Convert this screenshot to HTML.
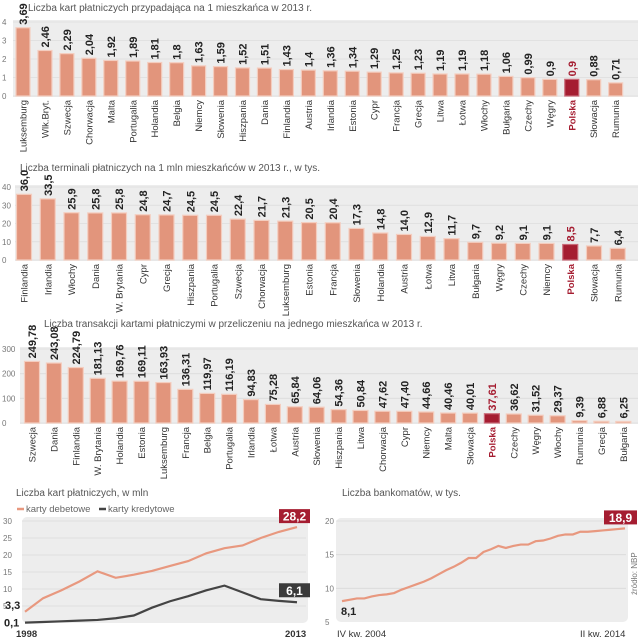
<!DOCTYPE html>
<html><head><meta charset="utf-8"><style>
html,body{margin:0;padding:0;background:#fff;width:640px;height:640px;overflow:hidden}
svg{display:block;font-family:"Liberation Sans",sans-serif}
</style></head><body>
<svg id="c" width="640" height="640" viewBox="0 0 640 640" xmlns="http://www.w3.org/2000/svg">
<text x="170" y="11" font-size="10" fill="#555" text-anchor="middle">Liczba kart płatniczych przypadająca na 1 mieszkańca w 2013 r.</text>
<text x="170" y="171" font-size="10" fill="#555" text-anchor="middle">Liczba terminali płatniczych na 1 mln mieszkańców w 2013 r., w tys.</text>
<text x="44" y="327" font-size="10" fill="#555">Liczba transakcji kartami płatniczymi w przeliczeniu na jednego mieszkańca w 2013 r.</text>
<text x="16" y="496" font-size="10" fill="#555">Liczba kart płatniczych, w mln</text>
<text x="342" y="496" font-size="10" fill="#555">Liczba bankomatów, w tys.</text>
<text transform="translate(637,595) rotate(-90)" font-size="8" fill="#777">źródło: NBP</text>
</svg>
<script>
const ns="http://www.w3.org/2000/svg";
const svg=document.getElementById('c');
function mk(tag,attrs,parent){const e=document.createElementNS(ns,tag);for(const k in attrs)e.setAttribute(k,attrs[k]);(parent||svg).appendChild(e);return e;}

const c1Cats=["Luksemburg","Wlk.Bryt.","Szwecja","Chorwacja","Malta","Portugalia","Holandia","Belgia","Niemcy","Słowenia","Hiszpania","Dania","Finlandia","Austria","Irlandia","Estonia","Cypr","Francja","Grecja","Litwa","Łotwa","Włochy","Bułgaria","Czechy","Węgry","Polska","Słowacja","Rumunia"];
const c1Vals=[3.69,2.46,2.29,2.04,1.92,1.89,1.81,1.8,1.63,1.59,1.52,1.51,1.43,1.4,1.36,1.34,1.29,1.25,1.23,1.19,1.19,1.18,1.06,0.99,0.9,0.9,0.88,0.71];
const c1Ticks=[0,1,2,3,4];

const c2Cats=["Finlandia","Irlandia","Włochy","Dania","W. Brytania","Cypr","Grecja","Hiszpania","Portugalia","Szwecja","Chorwacja","Luksemburg","Estonia","Francja","Słowenia","Holandia","Austria","Łotwa","Litwa","Bułgaria","Węgry","Czechy","Niemcy","Polska","Słowacja","Rumunia"];
const c2Vals=[36.0,33.5,25.9,25.8,25.8,24.8,24.7,24.5,24.5,22.4,21.7,21.3,20.5,20.4,17.3,14.8,14.0,12.9,11.7,9.7,9.2,9.1,9.1,8.5,7.7,6.4];
const c2Ticks=[0,10,20,30,40];

const c3Cats=["Szwecja","Dania","Finlandia","W. Brytania","Holandia","Estonia","Luksemburg","Francja","Belgia","Portugalia","Irlandia","Łotwa","Austria","Słowenia","Hiszpania","Litwa","Chorwacja","Cypr","Niemcy","Malta","Słowacja","Polska","Czechy","Węgry","Włochy","Rumunia","Grecja","Bułgaria"];
const c3Vals=[249.78,243.08,224.79,181.13,169.76,169.11,163.93,136.31,119.97,116.19,94.83,75.28,65.84,64.06,54.36,50.84,47.62,47.4,44.66,40.46,40.01,37.61,36.62,31.52,29.37,9.39,6.88,6.25];
const c3Ticks=[0,100,200,300];

const c4Years=[1998,1999,2000,2001,2002,2003,2004,2005,2006,2007,2008,2009,2010,2011,2012,2013];
const c4Debit=[3.3,7.3,9.6,12.2,15.2,13.3,14.2,15.3,16.8,18.2,20.5,22.0,22.8,25.0,26.8,28.2];
const c4Credit=[0.1,0.3,0.5,0.7,0.9,1.4,2.2,4.5,6.4,7.9,9.6,11.0,9.0,7.0,6.5,6.1];
const c4Ticks=[5,10,15,20,25,30];

const c5Vals=[8.1,8.3,8.5,8.5,8.8,9.0,9.1,9.3,9.8,10.2,10.6,11.0,11.5,12.1,12.7,13.2,13.8,14.5,14.5,15.4,15.8,16.3,16.0,16.3,16.5,16.5,17.0,17.1,17.4,17.8,18.0,18.0,18.4,18.4,18.5,18.6,18.7,18.8,18.9];
const c5Ticks=[5,10,15,20];

const BAR="#e2957c",BARS="#f4cdbf",RED="#a51d31";
function fmt(v,d){return v.toFixed(d).replace('.',',');}

function barChart(name,cats,vals,ticks,max,y0,y1,x0,pitch,bw,dec,plain,bgx){
  const ys=v=>y0-(v/max)*(y0-y1);
  const xs=i=>x0+i*pitch;
  const bg=mk('rect',{x:bgx,y:y1-2,width:638-bgx,height:y0-y1+3,fill:"#ededed"});
  
  
  ticks.forEach(t=>{
    const l=mk('line',{x1:bgx,x2:638,y1:ys(t),y2:ys(t),stroke:"#dcdcdc","stroke-width":0.8});
    
    
    const tx=mk('text',{x:2,y:ys(t)+3,"font-size":8,fill:"#777"});
    tx.textContent=t;
    
    
  });
  cats.forEach((c,i)=>{
    const v=vals[i],pl=c==="Polska";
    const r=mk('rect',{x:xs(i)-bw/2,y:ys(v),width:bw,height:y0-ys(v),fill:pl?RED:BAR,stroke:pl?"#c96a78":BARS,"stroke-width":1.2});
    
    
    const lab=mk('text',{transform:`translate(${xs(i)+4},${ys(v)-3}) rotate(-90)`,"font-size":11,"font-weight":"bold",fill:pl?RED:"#222"});
    lab.textContent=plain?String(v).replace('.',','):fmt(v,dec);
    
    
    const cl=mk('text',{transform:`translate(${xs(i)+3.5},${y0+4}) rotate(-90)`,"font-size":9.5,fill:pl?RED:"#333","font-weight":pl?"bold":"normal","text-anchor":"end"});
    cl.textContent=c;
    
    
  });
}
barChart('chart1',c1Cats,c1Vals,c1Ticks,4,96,22,23,21.95,14,2,true,13);
barChart('chart2',c2Cats,c2Vals,c2Ticks,40,260,187,24,23.75,15,1,false,15);
barChart('chart3',c3Cats,c3Vals,c3Ticks,300,423,349,32,21.9,15,2,false,20);

// chart 4
(function(){
  const x0=25,x1=297,yb=623,yt=521,max=30;
  const xs=i=>x0+i*(x1-x0)/(c4Years.length-1);
  const ys=v=>yb-(v/max)*(yb-yt);
  const bg=mk('rect',{x:22,y:517,width:286,height:106,rx:5,fill:"#ededed"});
  
  
  c4Ticks.forEach(t=>{
    const l=mk('line',{x1:22,x2:306,y1:ys(t),y2:ys(t),stroke:"#dadada","stroke-width":0.8});
    
    
    const tx=mk('text',{x:3,y:ys(t)+3,"font-size":8,fill:"#777"});
    tx.textContent=t;
    
    
  });
  const p1=mk('polyline',{points:c4Debit.map((v,i)=>xs(i)+','+ys(v)).join(' '),fill:"none",stroke:"#e8987f","stroke-width":2.2});
  
  
  const p2=mk('polyline',{points:c4Credit.map((v,i)=>xs(i)+','+ys(v)).join(' '),fill:"none",stroke:"#444","stroke-width":2.2});
  
  
  const l1=mk('line',{x1:17,x2:24,y1:509,y2:509,stroke:"#e8987f","stroke-width":2.5});
  
  
  const t1=mk('text',{x:26,y:512,"font-size":9.5,fill:"#666"});t1.textContent="karty debetowe";
  
  
  const l2=mk('line',{x1:99,x2:106,y1:509,y2:509,stroke:"#444","stroke-width":2.5});
  
  
  const t2=mk('text',{x:108,y:512,"font-size":9.5,fill:"#666"});t2.textContent="karty kredytowe";
  
  
  const n=c4Years.length-1;
  const b1=mk('rect',{x:279,y:ys(c4Debit[n])-18,width:31,height:14,fill:RED});
  
  
  const bt1=mk('text',{x:294.5,y:ys(c4Debit[n])-6.5,"font-size":12,"font-weight":"bold",fill:"#fff","text-anchor":"middle"});bt1.textContent=fmt(c4Debit[n],1);
  
  
  const b2=mk('rect',{x:279,y:ys(c4Credit[n])-19,width:31,height:14,fill:"#3a3a3a"});
  
  
  const bt2=mk('text',{x:294.5,y:ys(c4Credit[n])-7.5,"font-size":12,"font-weight":"bold",fill:"#fff","text-anchor":"middle"});bt2.textContent=fmt(c4Credit[n],1);
  
  
  const s1=mk('text',{x:5,y:ys(c4Debit[0])-3,"font-size":11,"font-weight":"bold",fill:"#222"});s1.textContent=fmt(c4Debit[0],1);
  
  
  const s2=mk('text',{x:4,y:ys(c4Credit[0])+4,"font-size":11,"font-weight":"bold",fill:"#222"});s2.textContent=fmt(c4Credit[0],1);
  
  
  const xa=mk('text',{x:16,y:637,"font-size":9.5,"font-weight":"bold",fill:"#333"});xa.textContent=c4Years[0];
  
  
  const xb=mk('text',{x:285,y:637,"font-size":9.5,"font-weight":"bold",fill:"#333"});xb.textContent=c4Years[n];
  
  
})();

// chart 5
(function(){
  const x0=342,x1=625,yb=622,yt=521,min=5,max=20;
  const n=c5Vals.length-1;
  const xs=i=>x0+i*(x1-x0)/n;
  const ys=v=>yb-((v-min)/(max-min))*(yb-yt);
  const bg=mk('rect',{x:336,y:518,width:292,height:104,rx:5,fill:"#ededed"});
  
  
  c5Ticks.forEach(t=>{
    if(t>min){const l=mk('line',{x1:336,x2:626,y1:ys(t),y2:ys(t),stroke:"#dadada","stroke-width":0.8});
    
    }
    const tx=mk('text',{x:325,y:ys(t)+3,"font-size":8,fill:"#777"});
    tx.textContent=t;
    
    
  });
  const p=mk('polyline',{points:c5Vals.map((v,i)=>xs(i)+','+ys(v)).join(' '),fill:"none",stroke:"#e8987f","stroke-width":2.2});
  
  
  const b=mk('rect',{x:604,y:ys(c5Vals[n])-18,width:33,height:14,fill:RED});
  
  
  const bt=mk('text',{x:620.5,y:ys(c5Vals[n])-6.5,"font-size":12,"font-weight":"bold",fill:"#fff","text-anchor":"middle"});bt.textContent=fmt(c5Vals[n],1);
  
  
  const s=mk('text',{x:341,y:ys(c5Vals[0])+14,"font-size":11,"font-weight":"bold",fill:"#222"});s.textContent=fmt(c5Vals[0],1);
  
  
  const xa=mk('text',{x:337,y:637,"font-size":9.5,fill:"#333"});xa.textContent="IV kw. 2004";
  
  
  const xb=mk('text',{x:580,y:637,"font-size":9.5,fill:"#333"});xb.textContent="II kw. 2014";
  
  
})();
</script>
</body></html>
